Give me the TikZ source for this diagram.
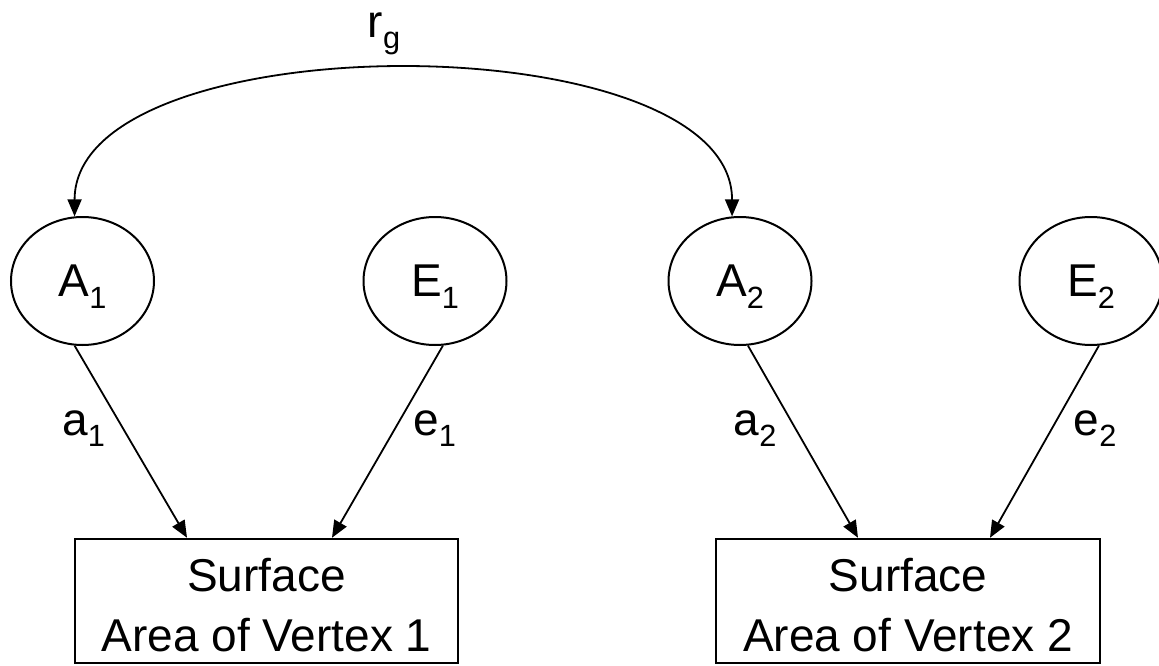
\documentclass[tikz,border=0pt]{standalone}
\usepackage{fontspec}
\setmainfont{Liberation Sans}
\usetikzlibrary{arrows.meta,shapes.geometric}
\newcommand\bigfont{\fontsize{46}{60}\selectfont}
\newcommand\lsub[1]{\smash{\raisebox{-11.5pt}{\fontsize{30.7}{30.7}\selectfont #1}}}
\begin{document}
\begin{tikzpicture}[x=1pt,y=-1pt,
  latent/.style={draw, ellipse, line width=2pt, minimum width=143pt, minimum height=128pt, inner sep=0pt, font=\bigfont},
  obs/.style={draw, rectangle, line width=2pt, minimum width=383.5pt, minimum height=124.5pt, inner sep=0pt},
  txt/.style={font=\bigfont, align=center, inner sep=0pt},
  conn/.style={line width=1.8pt, -{Triangle[length=17pt,width=14pt]}},
  corr/.style={line width=1.8pt, {Triangle[length=17pt,width=14pt]}-{Triangle[length=17pt,width=14pt]}}
]
\useasboundingbox (0,0) rectangle (1159,666);
\fill[white] (0,0) rectangle (1159,666);

\node[latent] (A1) at (82.5,281) {A\lsub{1}};
\node[latent] (E1) at (435,281) {E\lsub{1}};
\node[latent] (A2) at (740,281) {A\lsub{2}};
\node[latent] (E2) at (1091,281) {E\lsub{2}};

\node[obs] (B1) at (266.5,601) {};
\node[obs] (B2) at (908,601) {};
\node[txt] (T1) at (266.5,605) {Surface\\Area of Vertex 1};
\node[txt] (T2) at (908,605) {Surface\\Area of Vertex 2};

\draw[conn] (A1.263) -- ([xshift=-79.5pt]B1.north);
\draw[conn] (E1.277) -- ([xshift=65.5pt]B1.north);
\draw[conn] (A2.277) -- ([xshift=-50pt]B2.north);
\draw[conn] (E2.277) -- ([xshift=82pt]B2.north);

\draw[corr] (A1.97) .. controls +(0,-195) and +(0,-195) .. (A2.97);

\node[txt] (rg) at (384,25) {r\lsub{g}};
\node[txt] (la1) at (83.5,423) {a\lsub{1}};
\node[txt] (le1) at (434.5,423) {e\lsub{1}};
\node[txt] (la2) at (755,423) {a\lsub{2}};
\node[txt] (le2) at (1095,423) {e\lsub{2}};
\end{tikzpicture}
\end{document}
